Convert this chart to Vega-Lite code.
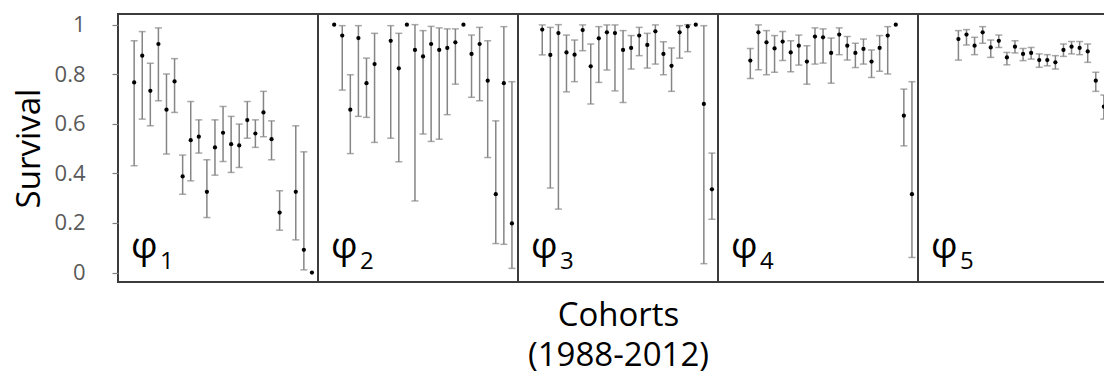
{
  "$schema": "https://vega.github.io/schema/vega-lite/v6.json",
  "autosize": {"type": "pad"},
  "padding": {"left": 12, "top": 12, "right": 0, "bottom": 0},
  "background": "white",
  "bounds": "flush",
  "spacing": 0,
  "config": {
    "font": "Open Sans",
    "view": {"stroke": "#3c3c3c", "strokeWidth": 2}
  },
  "datasets": {
    "surv": [
      {"phi": 1, "year": 1990, "s": 0.767, "lo": 0.431, "hi": 0.935},
      {"phi": 1, "year": 1991, "s": 0.875, "lo": 0.619, "hi": 0.972},
      {"phi": 1, "year": 1992, "s": 0.733, "lo": 0.592, "hi": 0.844},
      {"phi": 1, "year": 1993, "s": 0.922, "lo": 0.693, "hi": 0.987},
      {"phi": 1, "year": 1994, "s": 0.657, "lo": 0.478, "hi": 0.801},
      {"phi": 1, "year": 1995, "s": 0.771, "lo": 0.646, "hi": 0.863},
      {"phi": 1, "year": 1996, "s": 0.388, "lo": 0.316, "hi": 0.474},
      {"phi": 1, "year": 1997, "s": 0.534, "lo": 0.370, "hi": 0.690},
      {"phi": 1, "year": 1998, "s": 0.548, "lo": 0.482, "hi": 0.616},
      {"phi": 1, "year": 1999, "s": 0.326, "lo": 0.222, "hi": 0.455},
      {"phi": 1, "year": 2000, "s": 0.505, "lo": 0.393, "hi": 0.616},
      {"phi": 1, "year": 2001, "s": 0.564, "lo": 0.448, "hi": 0.670},
      {"phi": 1, "year": 2002, "s": 0.518, "lo": 0.404, "hi": 0.630},
      {"phi": 1, "year": 2003, "s": 0.513, "lo": 0.424, "hi": 0.599},
      {"phi": 1, "year": 2004, "s": 0.615, "lo": 0.542, "hi": 0.690},
      {"phi": 1, "year": 2005, "s": 0.561, "lo": 0.505, "hi": 0.616},
      {"phi": 1, "year": 2006, "s": 0.646, "lo": 0.548, "hi": 0.731},
      {"phi": 1, "year": 2007, "s": 0.538, "lo": 0.455, "hi": 0.612},
      {"phi": 1, "year": 2008, "s": 0.242, "lo": 0.171, "hi": 0.330},
      {"phi": 1, "year": 2010, "s": 0.326, "lo": 0.132, "hi": 0.592},
      {"phi": 1, "year": 2011, "s": 0.092, "lo": 0.011, "hi": 0.487},
      {"phi": 1, "year": 2012, "s": 0.0, "lo": null, "hi": null},

      {"phi": 2, "year": 1990, "s": 1.0, "lo": null, "hi": null},
      {"phi": 2, "year": 1991, "s": 0.956, "lo": 0.736, "hi": 0.996},
      {"phi": 2, "year": 1992, "s": 0.657, "lo": 0.480, "hi": 0.798},
      {"phi": 2, "year": 1993, "s": 0.946, "lo": 0.630, "hi": 0.996},
      {"phi": 2, "year": 1994, "s": 0.764, "lo": 0.626, "hi": 0.865},
      {"phi": 2, "year": 1995, "s": 0.841, "lo": 0.525, "hi": 0.965},
      {"phi": 2, "year": 1997, "s": 0.935, "lo": 0.542, "hi": 0.996},
      {"phi": 2, "year": 1998, "s": 0.824, "lo": 0.447, "hi": 0.965},
      {"phi": 2, "year": 1999, "s": 1.0, "lo": null, "hi": null},
      {"phi": 2, "year": 2000, "s": 0.898, "lo": 0.289, "hi": 1.0},
      {"phi": 2, "year": 2001, "s": 0.872, "lo": 0.559, "hi": 0.976},
      {"phi": 2, "year": 2002, "s": 0.922, "lo": 0.529, "hi": 0.993},
      {"phi": 2, "year": 2003, "s": 0.898, "lo": 0.538, "hi": 0.987},
      {"phi": 2, "year": 2004, "s": 0.906, "lo": 0.637, "hi": 0.983},
      {"phi": 2, "year": 2005, "s": 0.929, "lo": 0.760, "hi": 0.983},
      {"phi": 2, "year": 2006, "s": 1.0, "lo": null, "hi": null},
      {"phi": 2, "year": 2007, "s": 0.882, "lo": 0.707, "hi": 0.958},
      {"phi": 2, "year": 2008, "s": 0.922, "lo": 0.693, "hi": 0.989},
      {"phi": 2, "year": 2009, "s": 0.774, "lo": 0.464, "hi": 0.935},
      {"phi": 2, "year": 2010, "s": 0.316, "lo": 0.117, "hi": 0.612},
      {"phi": 2, "year": 2011, "s": 0.764, "lo": 0.114, "hi": 0.992},
      {"phi": 2, "year": 2012, "s": 0.198, "lo": 0.017, "hi": 0.770},

      {"phi": 3, "year": 1991, "s": 0.980, "lo": 0.878, "hi": 0.999},
      {"phi": 3, "year": 1992, "s": 0.878, "lo": 0.341, "hi": 0.989},
      {"phi": 3, "year": 1993, "s": 0.966, "lo": 0.256, "hi": 1.0},
      {"phi": 3, "year": 1994, "s": 0.888, "lo": 0.729, "hi": 0.958},
      {"phi": 3, "year": 1995, "s": 0.879, "lo": 0.770, "hi": 0.938},
      {"phi": 3, "year": 1996, "s": 0.978, "lo": 0.895, "hi": 0.999},
      {"phi": 3, "year": 1997, "s": 0.832, "lo": 0.680, "hi": 0.922},
      {"phi": 3, "year": 1998, "s": 0.945, "lo": 0.767, "hi": 0.992},
      {"phi": 3, "year": 1999, "s": 0.969, "lo": 0.817, "hi": 0.999},
      {"phi": 3, "year": 2000, "s": 0.966, "lo": 0.733, "hi": 0.999},
      {"phi": 3, "year": 2001, "s": 0.898, "lo": 0.686, "hi": 0.976},
      {"phi": 3, "year": 2002, "s": 0.906, "lo": 0.821, "hi": 0.956},
      {"phi": 3, "year": 2003, "s": 0.956, "lo": 0.875, "hi": 0.989},
      {"phi": 3, "year": 2004, "s": 0.918, "lo": 0.825, "hi": 0.965},
      {"phi": 3, "year": 2005, "s": 0.973, "lo": 0.841, "hi": 0.999},
      {"phi": 3, "year": 2006, "s": 0.882, "lo": 0.798, "hi": 0.931},
      {"phi": 3, "year": 2007, "s": 0.834, "lo": 0.731, "hi": 0.906},
      {"phi": 3, "year": 2008, "s": 0.969, "lo": 0.865, "hi": 0.996},
      {"phi": 3, "year": 2009, "s": 0.993, "lo": 0.891, "hi": 1.0},
      {"phi": 3, "year": 2010, "s": 1.0, "lo": null, "hi": null},
      {"phi": 3, "year": 2011, "s": 0.680, "lo": 0.036, "hi": 0.996},
      {"phi": 3, "year": 2012, "s": 0.336, "lo": 0.215, "hi": 0.482},

      {"phi": 4, "year": 1992, "s": 0.855, "lo": 0.783, "hi": 0.904},
      {"phi": 4, "year": 1993, "s": 0.969, "lo": 0.818, "hi": 0.999},
      {"phi": 4, "year": 1994, "s": 0.929, "lo": 0.798, "hi": 0.976},
      {"phi": 4, "year": 1995, "s": 0.904, "lo": 0.808, "hi": 0.956},
      {"phi": 4, "year": 1996, "s": 0.932, "lo": 0.855, "hi": 0.972},
      {"phi": 4, "year": 1997, "s": 0.888, "lo": 0.810, "hi": 0.935},
      {"phi": 4, "year": 1998, "s": 0.915, "lo": 0.837, "hi": 0.958},
      {"phi": 4, "year": 1999, "s": 0.851, "lo": 0.760, "hi": 0.915},
      {"phi": 4, "year": 2000, "s": 0.952, "lo": 0.841, "hi": 0.987},
      {"phi": 4, "year": 2001, "s": 0.949, "lo": 0.845, "hi": 0.983},
      {"phi": 4, "year": 2002, "s": 0.886, "lo": 0.764, "hi": 0.946},
      {"phi": 4, "year": 2003, "s": 0.960, "lo": 0.879, "hi": 0.987},
      {"phi": 4, "year": 2004, "s": 0.915, "lo": 0.857, "hi": 0.952},
      {"phi": 4, "year": 2005, "s": 0.886, "lo": 0.827, "hi": 0.925},
      {"phi": 4, "year": 2006, "s": 0.902, "lo": 0.841, "hi": 0.942},
      {"phi": 4, "year": 2007, "s": 0.851, "lo": 0.787, "hi": 0.898},
      {"phi": 4, "year": 2008, "s": 0.906, "lo": 0.812, "hi": 0.956},
      {"phi": 4, "year": 2009, "s": 0.956, "lo": 0.801, "hi": 0.992},
      {"phi": 4, "year": 2010, "s": 1.0, "lo": null, "hi": null},
      {"phi": 4, "year": 2011, "s": 0.633, "lo": 0.511, "hi": 0.740},
      {"phi": 4, "year": 2012, "s": 0.316, "lo": 0.061, "hi": 0.770},

      {"phi": 5, "year": 1993, "s": 0.942, "lo": 0.857, "hi": 0.976},
      {"phi": 5, "year": 1994, "s": 0.960, "lo": 0.918, "hi": 0.980},
      {"phi": 5, "year": 1995, "s": 0.915, "lo": 0.879, "hi": 0.949},
      {"phi": 5, "year": 1996, "s": 0.969, "lo": 0.925, "hi": 0.992},
      {"phi": 5, "year": 1997, "s": 0.908, "lo": 0.868, "hi": 0.938},
      {"phi": 5, "year": 1998, "s": 0.935, "lo": 0.908, "hi": 0.958},
      {"phi": 5, "year": 1999, "s": 0.868, "lo": 0.838, "hi": 0.888},
      {"phi": 5, "year": 2000, "s": 0.911, "lo": 0.886, "hi": 0.935},
      {"phi": 5, "year": 2001, "s": 0.882, "lo": 0.855, "hi": 0.904},
      {"phi": 5, "year": 2002, "s": 0.886, "lo": 0.861, "hi": 0.908},
      {"phi": 5, "year": 2003, "s": 0.857, "lo": 0.828, "hi": 0.882},
      {"phi": 5, "year": 2004, "s": 0.857, "lo": 0.834, "hi": 0.879},
      {"phi": 5, "year": 2005, "s": 0.848, "lo": 0.821, "hi": 0.875},
      {"phi": 5, "year": 2006, "s": 0.898, "lo": 0.872, "hi": 0.922},
      {"phi": 5, "year": 2007, "s": 0.911, "lo": 0.882, "hi": 0.932},
      {"phi": 5, "year": 2008, "s": 0.906, "lo": 0.879, "hi": 0.932},
      {"phi": 5, "year": 2009, "s": 0.892, "lo": 0.848, "hi": 0.922},
      {"phi": 5, "year": 2010, "s": 0.774, "lo": 0.731, "hi": 0.808},
      {"phi": 5, "year": 2011, "s": 0.669, "lo": 0.619, "hi": 0.716}
    ]
  },
  "resolve": {"scale": {"x": "independent"}},
  "hconcat": [
    {
      "width": 200, "height": 268,
      "data": {"name": "surv"},
      "transform": [{"filter": "datum.phi == 1"}],
      "layer": [
        {
          "transform": [{"filter": "isValid(datum.lo)"}],
          "mark": {"type": "errorbar", "color": "#858585", "thickness": 1.5, "ticks": {"size": 7}},
          "encoding": {
            "x": {"field": "year", "type": "quantitative", "scale": {"domain": [1988, 2012.75], "nice": false, "zero": false}, "axis": null},
            "y": {"field": "lo", "type": "quantitative", "scale": {"domain": [-0.038, 1.043], "nice": false, "zero": false},
              "axis": {"values": [0, 0.2, 0.4, 0.6, 0.8, 1], "format": "~g", "grid": false, "domain": false,
                "tickSize": 6, "tickColor": "#808080", "tickWidth": 1.2, "labelPadding": 27,
                "labelFont": "Open Sans", "labelFontSize": 22, "labelColor": "#595959",
                "title": "Survival", "titleFont": "Open Sans", "titleFontSize": 33, "titleFontWeight": "normal",
                "titleColor": "#000000", "titlePadding": 8}},
            "y2": {"field": "hi"}
          }
        },
        {
          "mark": {"type": "circle", "size": 18, "color": "#000000", "opacity": 1},
          "encoding": {
            "x": {"field": "year", "type": "quantitative"},
            "y": {"field": "s", "type": "quantitative"}
          }
        },
        {
          "data": {"values": [{"g": "φ", "n": "1"}]},
          "mark": {"type": "text", "font": "Open Sans", "fontSize": 37, "align": "left", "baseline": "alphabetic", "dx": 13, "dy": -15, "color": "#000000"},
          "encoding": {"x": {"datum": 1988}, "y": {"datum": 0}, "text": {"field": "g"}}
        },
        {
          "data": {"values": [{"g": "φ", "n": "1"}]},
          "mark": {"type": "text", "font": "Open Sans", "fontSize": 24, "align": "left", "baseline": "alphabetic", "dx": 42, "dy": -4, "color": "#000000"},
          "encoding": {"x": {"datum": 1988}, "y": {"datum": 0}, "text": {"field": "n"}}
        }
      ]
    },
    {
      "width": 200, "height": 268,
      "data": {"name": "surv"},
      "transform": [{"filter": "datum.phi == 2"}],
      "layer": [
        {
          "transform": [{"filter": "isValid(datum.lo)"}],
          "mark": {"type": "errorbar", "color": "#858585", "thickness": 1.5, "ticks": {"size": 7}},
          "encoding": {
            "x": {"field": "year", "type": "quantitative", "scale": {"domain": [1988, 2012.75], "nice": false, "zero": false}, "axis": null},
            "y": {"field": "lo", "type": "quantitative", "scale": {"domain": [-0.038, 1.043], "nice": false, "zero": false}, "axis": null},
            "y2": {"field": "hi"}
          }
        },
        {
          "mark": {"type": "circle", "size": 18, "color": "#000000", "opacity": 1},
          "encoding": {
            "x": {"field": "year", "type": "quantitative"},
            "y": {"field": "s", "type": "quantitative"}
          }
        },
        {
          "data": {"values": [{"g": "φ", "n": "2"}]},
          "mark": {"type": "text", "font": "Open Sans", "fontSize": 37, "align": "left", "baseline": "alphabetic", "dx": 13, "dy": -15, "color": "#000000"},
          "encoding": {"x": {"datum": 1988}, "y": {"datum": 0}, "text": {"field": "g"}}
        },
        {
          "data": {"values": [{"g": "φ", "n": "2"}]},
          "mark": {"type": "text", "font": "Open Sans", "fontSize": 24, "align": "left", "baseline": "alphabetic", "dx": 42, "dy": -4, "color": "#000000"},
          "encoding": {"x": {"datum": 1988}, "y": {"datum": 0}, "text": {"field": "n"}}
        }
      ]
    },
    {
      "width": 200, "height": 268,
      "data": {"name": "surv"},
      "transform": [{"filter": "datum.phi == 3"}],
      "layer": [
        {
          "transform": [{"filter": "isValid(datum.lo)"}],
          "mark": {"type": "errorbar", "color": "#858585", "thickness": 1.5, "ticks": {"size": 7}},
          "encoding": {
            "x": {"field": "year", "type": "quantitative", "scale": {"domain": [1988, 2012.75], "nice": false, "zero": false},
              "axis": {"labels": false, "ticks": false, "domain": false, "grid": false,
                "title": ["Cohorts", "(1988-2012)"], "titleFont": "Open Sans", "titleFontSize": 33,
                "titleFontWeight": "normal", "titleColor": "#000000", "titleLineHeight": 40, "titlePadding": 17}},
            "y": {"field": "lo", "type": "quantitative", "scale": {"domain": [-0.038, 1.043], "nice": false, "zero": false}, "axis": null},
            "y2": {"field": "hi"}
          }
        },
        {
          "mark": {"type": "circle", "size": 18, "color": "#000000", "opacity": 1},
          "encoding": {
            "x": {"field": "year", "type": "quantitative"},
            "y": {"field": "s", "type": "quantitative"}
          }
        },
        {
          "data": {"values": [{"g": "φ", "n": "3"}]},
          "mark": {"type": "text", "font": "Open Sans", "fontSize": 37, "align": "left", "baseline": "alphabetic", "dx": 13, "dy": -15, "color": "#000000"},
          "encoding": {"x": {"datum": 1988}, "y": {"datum": 0}, "text": {"field": "g"}}
        },
        {
          "data": {"values": [{"g": "φ", "n": "3"}]},
          "mark": {"type": "text", "font": "Open Sans", "fontSize": 24, "align": "left", "baseline": "alphabetic", "dx": 42, "dy": -4, "color": "#000000"},
          "encoding": {"x": {"datum": 1988}, "y": {"datum": 0}, "text": {"field": "n"}}
        }
      ]
    },
    {
      "width": 200, "height": 268,
      "data": {"name": "surv"},
      "transform": [{"filter": "datum.phi == 4"}],
      "layer": [
        {
          "transform": [{"filter": "isValid(datum.lo)"}],
          "mark": {"type": "errorbar", "color": "#858585", "thickness": 1.5, "ticks": {"size": 7}},
          "encoding": {
            "x": {"field": "year", "type": "quantitative", "scale": {"domain": [1988, 2012.75], "nice": false, "zero": false}, "axis": null},
            "y": {"field": "lo", "type": "quantitative", "scale": {"domain": [-0.038, 1.043], "nice": false, "zero": false}, "axis": null},
            "y2": {"field": "hi"}
          }
        },
        {
          "mark": {"type": "circle", "size": 18, "color": "#000000", "opacity": 1},
          "encoding": {
            "x": {"field": "year", "type": "quantitative"},
            "y": {"field": "s", "type": "quantitative"}
          }
        },
        {
          "data": {"values": [{"g": "φ", "n": "4"}]},
          "mark": {"type": "text", "font": "Open Sans", "fontSize": 37, "align": "left", "baseline": "alphabetic", "dx": 13, "dy": -15, "color": "#000000"},
          "encoding": {"x": {"datum": 1988}, "y": {"datum": 0}, "text": {"field": "g"}}
        },
        {
          "data": {"values": [{"g": "φ", "n": "4"}]},
          "mark": {"type": "text", "font": "Open Sans", "fontSize": 24, "align": "left", "baseline": "alphabetic", "dx": 42, "dy": -4, "color": "#000000"},
          "encoding": {"x": {"datum": 1988}, "y": {"datum": 0}, "text": {"field": "n"}}
        }
      ]
    },
    {
      "width": 187, "height": 268,
      "data": {"name": "surv"},
      "transform": [{"filter": "datum.phi == 5"}],
      "layer": [
        {
          "transform": [{"filter": "isValid(datum.lo)"}],
          "mark": {"type": "errorbar", "color": "#858585", "thickness": 1.5, "ticks": {"size": 7}, "clip": true},
          "encoding": {
            "x": {"field": "year", "type": "quantitative", "scale": {"domain": [1988, 2011.14], "nice": false, "zero": false}, "axis": null},
            "y": {"field": "lo", "type": "quantitative", "scale": {"domain": [-0.038, 1.043], "nice": false, "zero": false}, "axis": null},
            "y2": {"field": "hi"}
          }
        },
        {
          "mark": {"type": "circle", "size": 18, "color": "#000000", "opacity": 1, "clip": true},
          "encoding": {
            "x": {"field": "year", "type": "quantitative"},
            "y": {"field": "s", "type": "quantitative"}
          }
        },
        {
          "data": {"values": [{"g": "φ", "n": "5"}]},
          "mark": {"type": "text", "font": "Open Sans", "fontSize": 37, "align": "left", "baseline": "alphabetic", "dx": 13, "dy": -15, "color": "#000000"},
          "encoding": {"x": {"datum": 1988}, "y": {"datum": 0}, "text": {"field": "g"}}
        },
        {
          "data": {"values": [{"g": "φ", "n": "5"}]},
          "mark": {"type": "text", "font": "Open Sans", "fontSize": 24, "align": "left", "baseline": "alphabetic", "dx": 42, "dy": -4, "color": "#000000"},
          "encoding": {"x": {"datum": 1988}, "y": {"datum": 0}, "text": {"field": "n"}}
        }
      ]
    }
  ]
}
